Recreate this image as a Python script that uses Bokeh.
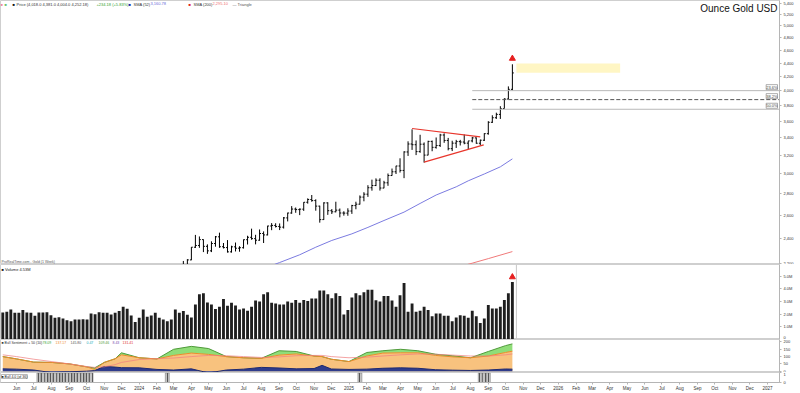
import pandas as pd
from bokeh.plotting import figure
from bokeh.layouts import column
from bokeh.models import (ColumnDataSource, Range1d, FixedTicker, NumeralTickFormatter,
                          CustomJSTickFormatter, Label, Span, BoxAnnotation)
from bokeh.embed import file_html
from bokeh.resources import INLINE

# ---------------- data (weekly) ----------------
first_week = "2023-05-08"
n_weeks = 128

opens = [2016, 2011, 1977, 1946, 1948, 1961, 1958, 1921, 1919, 1925, 1955, 1962, 1959, 1943, 1914, 1889, 1915,
         1940, 1919, 1924, 1925, 1848, 1833, 1933, 1981, 2006, 1993, 1940, 1981, 2002, 2072, 2005, 2019, 2053,
         2063, 2045, 2049, 2029, 2018, 2039, 2024, 2013, 2035, 2083, 2179, 2155, 2165, 2230, 2330, 2344, 2392,
         2337, 2301, 2360, 2415, 2334, 2327, 2293, 2333, 2322, 2326, 2391, 2411, 2400, 2387, 2443, 2431, 2507,
         2512, 2503, 2497, 2578, 2622, 2658, 2653, 2657, 2721, 2747, 2737, 2685, 2563, 2715, 2643, 2633, 2648,
         2622, 2621, 2640, 2690, 2703, 2770, 2798, 2861, 2883, 2936, 2858, 2910, 2984, 3023, 3084, 3037, 3237,
         3327, 3319, 3241, 3325, 3202, 3357, 3289, 3310, 3432, 3368, 3274, 3337, 3355, 3350, 3337, 3363, 3398,
         3336, 3371, 3448, 3586, 3643, 3685, 3760, 3886, 4018]
highs = [2048, 2022, 1985, 1983, 1971, 1971, 1963, 1933, 1935, 1963, 1987, 1973, 1970, 1947, 1916, 1923, 1953,
         1953, 1932, 1947, 1927, 1853, 1936, 1997, 2009, 2008, 1995, 1993, 2017, 2075, 2146, 2048, 2070, 2088,
         2078, 2062, 2059, 2042, 2066, 2044, 2031, 2041, 2088, 2195, 2185, 2222, 2236, 2331, 2431, 2418, 2394,
         2353, 2378, 2422, 2450, 2364, 2388, 2342, 2368, 2338, 2393, 2424, 2484, 2432, 2477, 2461, 2509, 2532,
         2531, 2529, 2586, 2625, 2685, 2672, 2664, 2722, 2758, 2790, 2749, 2689, 2721, 2721, 2658, 2726, 2663,
         2638, 2665, 2697, 2726, 2786, 2817, 2886, 2942, 2955, 2956, 2930, 3005, 3057, 3086, 3167, 3245, 3358,
         3500, 3368, 3435, 3345, 3365, 3367, 3403, 3446, 3452, 3398, 3365, 3375, 3375, 3439, 3363, 3409, 3404,
         3379, 3453, 3600, 3674, 3707, 3791, 3897, 4059, 4381]
lows = [2004, 1952, 1937, 1932, 1940, 1925, 1911, 1893, 1903, 1923, 1952, 1943, 1925, 1907, 1885, 1885, 1913,
        1915, 1901, 1913, 1846, 1810, 1832, 1908, 1953, 1972, 1932, 1931, 1976, 1999, 1992, 1973, 2016, 2051,
        2024, 2013, 2002, 2010, 2015, 2015, 1984, 2007, 2025, 2078, 2146, 2146, 2160, 2228, 2324, 2325, 2291,
        2277, 2291, 2334, 2325, 2320, 2287, 2287, 2296, 2294, 2319, 2352, 2391, 2353, 2383, 2364, 2427, 2471,
        2494, 2472, 2485, 2547, 2615, 2624, 2603, 2641, 2708, 2726, 2643, 2536, 2560, 2605, 2613, 2628, 2583,
        2598, 2597, 2614, 2656, 2700, 2730, 2772, 2832, 2877, 2833, 2856, 2880, 2982, 3000, 3015, 2957, 3193,
        3260, 3202, 3228, 3120, 3200, 3245, 3274, 3293, 3341, 3255, 3247, 3282, 3310, 3324, 3268, 3346, 3330,
        3311, 3362, 3436, 3578, 3628, 3628, 3759, 3884, 4004]
closes = [2011, 1977, 1946, 1948, 1961, 1958, 1921, 1919, 1925, 1955, 1962, 1959, 1943, 1914, 1889, 1915, 1940,
          1919, 1924, 1925, 1849, 1833, 1933, 1981, 2006, 1993, 1940, 1981, 2002, 2072, 2005, 2019, 2053, 2063,
          2045, 2049, 2029, 2018, 2039, 2024, 2013, 2035, 2083, 2179, 2155, 2165, 2230, 2330, 2344, 2392, 2337,
          2301, 2360, 2415, 2334, 2327, 2293, 2333, 2322, 2326, 2391, 2411, 2400, 2387, 2443, 2431, 2507, 2512,
          2503, 2497, 2578, 2622, 2658, 2653, 2657, 2721, 2747, 2737, 2685, 2563, 2715, 2643, 2633, 2648, 2622,
          2621, 2640, 2690, 2703, 2770, 2798, 2861, 2883, 2936, 2858, 2910, 2984, 3023, 3084, 3037, 3237, 3327,
          3319, 3241, 3325, 3202, 3357, 3289, 3310, 3432, 3368, 3274, 3337, 3355, 3350, 3337, 3363, 3398, 3336,
          3371, 3448, 3586, 3643, 3685, 3760, 3886, 4018, 4252.18]

volume_m = [2.13, 2.19, 2.37, 2.11, 2.11, 2.32, 2.13, 2.11, 1.87, 2.13,
            2.13, 2.16, 1.92, 1.71, 1.76, 1.65, 1.52, 1.44, 1.57, 1.57,
            1.60, 1.57, 2.05, 2.00, 2.16, 2.11, 2.11, 1.97, 2.11, 2.24,
            2.59, 2.43, 1.89, 1.39, 1.71, 2.37, 1.79, 1.89, 2.11, 1.71,
            1.57, 1.44, 1.57, 2.37, 2.11, 2.24, 1.95, 1.73, 2.77, 3.57,
            3.65, 2.93, 2.77, 2.40, 2.59, 3.20, 2.67, 2.91, 2.69, 2.37,
            2.45, 2.27, 2.59, 3.07, 2.99, 3.57, 3.73, 2.91, 2.85, 2.77,
            2.77, 2.99, 2.90, 3.12, 2.91, 3.12, 3.04, 3.23, 3.23, 3.87,
            3.87, 3.57, 3.25, 3.65, 3.44, 1.97, 2.32, 3.31, 3.65, 3.49,
            3.73, 3.92, 3.92, 3.10, 2.99, 3.44, 3.44, 3.07, 2.59, 3.49,
            4.45, 2.19, 2.85, 2.19, 2.27, 2.59, 2.32, 1.84, 2.05, 2.05,
            1.87, 1.87, 1.44, 1.73, 1.92, 1.87, 1.71, 2.27, 1.84, 1.31,
            1.65, 2.72, 2.45, 2.45, 2.59, 3.12, 3.65, 4.53]

sma52_dates = ["2024-07-01", "2024-08-05", "2024-09-02", "2024-10-07", "2024-11-04", "2024-12-02",
               "2025-01-06", "2025-02-03", "2025-03-03", "2025-04-07", "2025-05-05", "2025-06-02",
               "2025-07-07", "2025-07-28", "2025-08-25", "2025-09-22", "2025-10-13"]
sma52 = [2120, 2165, 2210, 2270, 2330, 2385, 2440, 2495, 2555, 2630, 2710, 2790, 2870, 2930, 3000, 3075, 3160.78]

sma200_dates = ["2025-05-05", "2025-06-02", "2025-07-07", "2025-08-04", "2025-09-01", "2025-10-13"]
sma200 = [2105, 2135, 2172, 2205, 2240, 2295.10]

tri_upper_dates = ["2025-04-21", "2025-08-18"]
tri_upper_prices = [3510, 3410]
tri_lower_dates = ["2025-05-12", "2025-08-24"]
tri_lower_prices = [3125, 3318]

fib_start = "2025-08-04"
fib_levels = [4000, 3878, 3751]
fib_labels = ["23.6%", "38.2%", "50.0%"]

target_dates = ["2025-10-20", "2026-04-19"]
target_prices = [4255, 4392]

ind_dates = ["2023-05-08", "2023-06-01", "2023-07-01", "2023-08-01", "2023-09-01", "2023-10-01", "2023-10-15",
             "2023-11-01", "2023-11-20", "2023-12-01", "2024-01-01", "2024-02-01", "2024-03-01", "2024-04-01",
             "2024-05-01", "2024-06-01", "2024-07-01", "2024-08-01", "2024-09-01", "2024-10-01", "2024-11-01",
             "2024-11-15", "2024-12-01", "2025-01-01", "2025-02-01", "2025-03-01", "2025-04-01", "2025-05-01",
             "2025-06-01", "2025-07-01", "2025-08-01", "2025-09-01", "2025-10-01", "2025-10-13"]
ind_orange = [100, 84, 62, 60, 50, 30, 12, 60, 85, 112, 92, 84, 108, 124, 115, 100, 92, 88, 110, 118, 104, 100,
              82, 66, 104, 124, 126, 126, 108, 98, 92, 104, 128, 137]
ind_green = [100, 84, 62, 60, 50, 30, 22, 60, 85, 126, 92, 84, 150, 170, 155, 100, 92, 88, 140, 135, 104, 100,
             82, 66, 128, 140, 150, 140, 116, 105, 92, 135, 175, 187]
ind_navy = [16, 14, 8, -10, -4, 0, 4, 32, 28, 24, 23, 12, 8, 16, -12, 8, 14, 26, 22, 16, 18, 40, 15, 12, 14, 20,
            23, 20, 10, 7, 5, 8, 15, 14]
ind_pink = [112, 100, 82, 66, 50, 32, 26, 30, 45, 60, 80, 86, 90, 100, 108, 106, 100, 94, 98, 106, 108, 108, 100,
            92, 96, 104, 112, 118, 116, 110, 104, 104, 112, 118]

signal_weeks = ["2023-07-10", "2023-07-17", "2023-07-24", "2023-07-31", "2023-08-07", "2023-08-14", "2023-08-21",
                "2023-08-28", "2023-09-04", "2023-09-11", "2023-09-18", "2023-09-25", "2023-10-02", "2023-10-09",
                "2024-02-19", "2025-01-20", "2025-08-18", "2025-08-25", "2025-09-01"]

price_ticks = [2200, 2400, 2600, 2800, 3000, 3200, 3400, 3600, 3800, 4000, 4200, 4400, 4600, 4800, 5000, 5200, 5400]
vol_ticks = [0, 1, 2, 3, 4, 5]
vol_tick_labels = ["0", "1.0M", "2.0M", "3.0M", "4.0M", "5.0M"]
ind_ticks = [0, 50, 100, 150, 200]
strip_ticks = [0, 1]

title_text = "Ounce Gold USD"

# ---------------- layout / style ----------------
FONT = "Liberation Sans"
W = 800
RB = 21
H1, H2, H3, H4 = 264, 75, 33, 21
X_START = pd.Timestamp("2023-05-04")
X_END = pd.Timestamp("2027-01-22")
PRICE_LO, PRICE_HI = 2195, 5460
DAY_MS = 86400000.0
AX_FS = "4px"


def ms(d):
    return pd.Timestamp(d).value / 1e6


x_range = Range1d(start=X_START, end=X_END)
dates = pd.date_range(first_week, periods=n_weeks, freq="7D")


def base_fig(height, y_range, **kw):
    p = figure(width=W, height=height, x_range=x_range, y_range=y_range,
               y_axis_location="right", output_backend="svg", toolbar_location=None,
               min_border_left=0, min_border_right=RB, min_border_top=0, min_border_bottom=0,
               background_fill_color="white", border_fill_color="white",
               outline_line_color="#cfcfcf", **kw)
    p.grid.visible = False
    ax = p.yaxis[0]
    ax.major_label_text_font_size = AX_FS
    ax.major_label_text_font = FONT
    ax.major_label_text_color = "#333333"
    ax.major_tick_in = 0
    ax.major_tick_out = 2
    ax.major_label_standoff = 2
    ax.minor_tick_line_color = None
    ax.axis_line_color = "#b5b5b5"
    ax.major_tick_line_color = "#b5b5b5"
    return p


def txt(fig, x, y, text, dx=0, dy=0, size="4px", color="#222222", align="left", baseline="top",
        style="normal", bg=None, border=None):
    lab = Label(x=x, y=y, x_offset=dx, y_offset=dy, text=text, text_font=FONT, text_font_size=size,
                text_color=color, text_align=align, text_baseline=baseline, text_font_style=style)
    if bg is not None:
        lab.background_fill_color = bg
    if border is not None:
        lab.border_line_color = border
        lab.border_line_width = 0.6
    fig.add_layout(lab)


# ---------------- price panel ----------------
p1 = base_fig(H1, Range1d(PRICE_LO, PRICE_HI), y_axis_type="log", x_axis_location=None)
p1.yaxis.ticker = FixedTicker(ticks=price_ticks)
p1.yaxis.formatter = NumeralTickFormatter(format="0,0")

p1.add_layout(BoxAnnotation(left=ms(target_dates[0]), right=ms(target_dates[1]),
                            bottom=target_prices[0], top=target_prices[1],
                            fill_color="#fff6c4", fill_alpha=1.0, line_color=None, level="underlay"))

tick_half = pd.Timedelta(days=2.5)
src = ColumnDataSource(dict(date=dates, o=opens, h=highs, l=lows, c=closes,
                            dl=dates - tick_half, dr=dates + tick_half))
p1.segment("date", "l", "date", "h", source=src, line_color="black", line_width=1)
p1.segment("dl", "o", "date", "o", source=src, line_color="black", line_width=1)
p1.segment("date", "c", "dr", "c", source=src, line_color="black", line_width=1)

p1.line(pd.to_datetime(sma52_dates), sma52, line_color="#7b7be0", line_width=1)
p1.line(pd.to_datetime(sma200_dates), sma200, line_color="#f07a7a", line_width=1)

p1.line(pd.to_datetime(tri_upper_dates), tri_upper_prices, line_color="#e8362c", line_width=1.2)
p1.line(pd.to_datetime(tri_lower_dates), tri_lower_prices, line_color="#e8362c", line_width=1.2)

fib_styles = [("#b8b8b8", "solid"), ("#555555", "4 2"), ("#b8b8b8", "solid")]
for lvl, lab, (col, dash) in zip(fib_levels, fib_labels, fib_styles):
    p1.line([pd.Timestamp(fib_start), X_END], [lvl, lvl], line_color=col, line_dash=dash, line_width=1)
    txt(p1, ms(X_END), lvl, lab, dx=-2, dy=1, size="4px", color="#444444", align="right",
        baseline="bottom", bg="white", border="#777777")

p1.scatter([dates[-1]], [highs[-1] * 1.02], marker="triangle", size=6, color="#e62020")

# right-axis value tags
txt(p1, ms(X_END), closes[-1], f"{closes[-1]:,.2f}", dx=1, size="4px", color="black",
    baseline="middle", style="bold", bg="#f7e81a")
txt(p1, ms(X_END), sma52[-1], f"{sma52[-1]:,.2f}", dx=1, size="4px", color="#4a4ad0",
    baseline="middle", bg="white")
txt(p1, ms(X_END), sma200[-1], f"{sma200[-1]:,.2f}", dx=1, size="4px", color="#e03030",
    baseline="middle", bg="#fde0e0")

# title
txt(p1, ms(X_END), PRICE_HI, title_text, dx=-2, dy=-2, size="10px", color="#111111", align="right")

# legend row
legend_parts = [
    (0, "■", "#f08aa0"), (4, "■", "#6cc070"), (12, "■", "#111111"),
    (16, "Price (4,018.0 4,381.0 4,004.0 4,252.18)", "#333333"),
    (96, "+234.18 (+5.83%)", "#2e9e2e"),
    (128, "■", "#1c1ca8"), (133, "SMA (52)", "#333333"), (150, f"{sma52[-1]:,.2f}", "#6a6ad8"),
    (188, "■", "#e02020"), (193, "SMA (200)", "#333333"), (212, f"{sma200[-1]:,.2f}", "#f07070"),
    (232, "— Triangle", "#555555"),
]
for dx, t, col in legend_parts:
    txt(p1, ms(X_START), PRICE_HI, t, dx=dx, dy=-1, size="4px", color=col)

txt(p1, ms(X_START), PRICE_LO, "ProRealTime.com - Gold (1 Week)", dx=1, dy=1, size="3.5px",
    color="#555555", baseline="bottom")

# ---------------- volume panel ----------------
p2 = base_fig(H2, Range1d(0, 5.92), x_axis_location=None)
p2.yaxis.ticker = FixedTicker(ticks=vol_ticks)
p2.yaxis.major_label_overrides = dict(zip(vol_ticks, vol_tick_labels))
p2.vbar(x=dates, top=volume_m, width=5 * DAY_MS, fill_color="#1f1f1f", line_color=None)
p2.scatter([dates[-1]], [volume_m[-1] + 0.4], marker="triangle", size=6, color="#e62020")
p2.add_layout(Span(location=ms(dates[-1] + pd.Timedelta(days=7)), dimension="height",
                   line_color="#c8c8c8", line_width=1))
txt(p2, ms(X_START), 5.92, "■ Volume " + f"{volume_m[-1]:.2f}M", dx=1, dy=-2, size="4px", color="#222222")
txt(p2, ms(X_END), volume_m[-1], f"{volume_m[-1]:.2f}M", dx=1, size="4px", color="black",
    baseline="middle", style="bold", bg="#eeeeee")

# ---------------- sentiment panel ----------------
p3 = base_fig(H3, Range1d(-9, 217), x_axis_location=None)
p3.yaxis.ticker = FixedTicker(ticks=ind_ticks)
isrc = ColumnDataSource(dict(x=pd.to_datetime(ind_dates), o=ind_orange, g=ind_green,
                             n=ind_navy, pk=ind_pink))
p3.varea(x="x", y1=0, y2="o", source=isrc, fill_color="#f8c27e")
p3.varea(x="x", y1="o", y2="g", source=isrc, fill_color="#8fdd78")
p3.varea(x="x", y1=0, y2="n", source=isrc, fill_color="#2f3c8c")
p3.line("x", "g", source=isrc, line_color="#4f9a3a", line_width=1)
p3.line("x", "o", source=isrc, line_color="#ee8a2a", line_width=1)
p3.line("x", "n", source=isrc, line_color="#1f2a70", line_width=1)
p3.line("x", "pk", source=isrc, line_color="#f07f7f", line_width=0.8, line_alpha=0.9)

ind_legend = [
    (1, "■ Bull Sentiment + 50 (10)", "#333333"), (42, "78.09", "#3aa43a"),
    (55, "137.17", "#ee8a2a"), (70, "145.80", "#555555"), (86, "0.47", "#20a8b8"),
    (98, "109.46", "#4f9a3a"), (112, "8.43", "#7a4ab0"), (122, "131.41", "#e03030"),
]
for dx, t, col in ind_legend:
    txt(p3, ms(X_START), 217, t, dx=dx, dy=-1, size="3.5px", color=col)
txt(p3, ms(X_END), ind_navy[-1], f"{ind_navy[-1]:.2f}", dx=1, size="4px", color="#333333",
    baseline="middle", bg="#bff0f5")

# ---------------- signal strip + time axis ----------------
p4 = base_fig(H4, Range1d(0, 1.05), x_axis_type="datetime", x_axis_location="below")
p4.yaxis.ticker = FixedTicker(ticks=strip_ticks)
p4.vbar(x=pd.to_datetime(signal_weeks), top=1, width=7 * DAY_MS, fill_color="#c4c4c4",
        line_color="#777777", line_width=0.5, hatch_pattern="|", hatch_color="#555555", hatch_scale=3)
txt(p4, ms(X_START), 1.05, "■ Bull 4.0 (of 36)", dx=1, dy=-2, size="3.5px", color="#222222",
    bg="white", border="#888888")

month_ticks = [ms(d) for d in pd.date_range("2023-06-01", "2027-01-01", freq="MS")]
xa = p4.xaxis[0]
xa.ticker = FixedTicker(ticks=month_ticks)
xa.formatter = CustomJSTickFormatter(code="""
const d = new Date(tick);
const m = d.getUTCMonth();
const names = ["Jan","Feb","Mar","Apr","May","Jun","Jul","Aug","Sep","Oct","Nov","Dec"];
return m === 0 ? String(d.getUTCFullYear()) : names[m];
""")
xa.major_label_text_font_size = "4.5px"
xa.major_label_text_font = FONT
xa.major_label_text_color = "#333333"
xa.major_tick_in = 0
xa.major_tick_out = 2
xa.major_label_standoff = 1
xa.minor_tick_line_color = None
xa.axis_line_color = "#b5b5b5"
xa.major_tick_line_color = "#b5b5b5"

layout = column(p1, p2, p3, p4, spacing=0)
open("out.html", "w").write(file_html(layout, INLINE))
